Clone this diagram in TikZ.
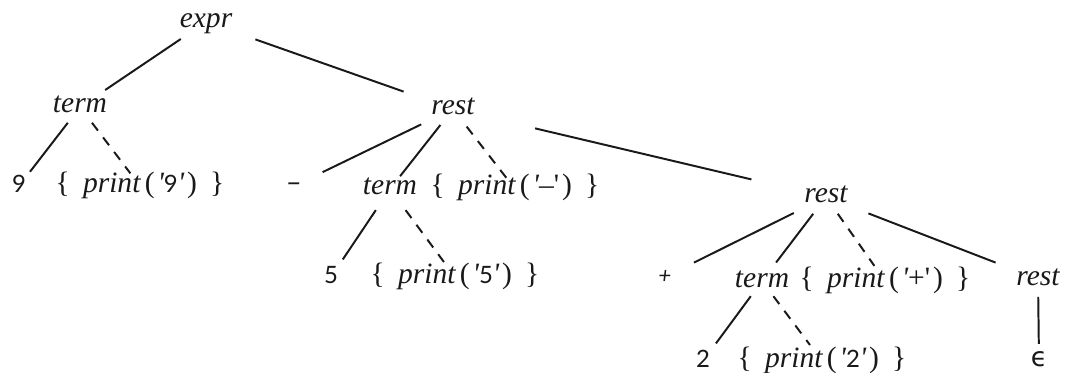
\documentclass[tikz,border=0pt]{standalone}
\usepackage{fontspec}
\setmainfont{Liberation Serif}
\newfontfamily\digitfont[Numbers=Lining]{Lato}
\newfontfamily\greekfont{DejaVu Sans}
\usepackage{tikz}
\usetikzlibrary{calc}

\newcommand\dg[1]{{\upshape\digitfont\fontsize{17}{20}\selectfont #1}}
\newcommand\act[1]{{\upshape\{}\hspace{0.45em}\textit{print}\hspace{0.15em}{\upshape(\hspace{0.1em}}\textquotesingle #1\textquotesingle{\upshape\hspace{0.1em})}\hspace{0.45em}{\upshape\}}}

\tikzset{
  sym/.style={font=\fontsize{21}{25}\selectfont\itshape, text=black!90, inner sep=0pt, text height=0.4cm, text depth=0.1cm},
  treeedge/.style={line width=1.4pt, draw=black!90},
  actedge/.style={treeedge, dash pattern=on 7pt off 6pt}
}

\begin{document}
\begin{tikzpicture}[x=0.025cm, y=-0.025cm]
\useasboundingbox (0,0) rectangle (1065,373);
\node[sym] (expr) at (206,22) {expr};
\node[sym] (term1) at (80,107) {term};
\node[sym] (rest1) at (453,109) {rest};
\node[sym] (nine) at (19,186) {\dg{9}};
\node[sym] (act9) at (140,186) {\act{\dg{9}}};
\node[sym] (minus) at (294,186) {{\digitfont\fontsize{21}{24}\selectfont –}};
\node[sym] (term2) at (390,189) {term};
\node[sym] (actm) at (515,189) {\act{\upshape –}};
\node[sym] (rest2) at (826,197) {rest};
\node[sym] (five) at (331,277) {\dg{5}};
\node[sym] (act5) at (455,277) {\act{\dg{5}}};
\node[sym] (plus) at (665,277) {{\digitfont\fontsize{16}{18}\selectfont +}};
\node[sym] (term3) at (762,281) {term};
\node[sym] (actp) at (885,281) {\act{\upshape +}};
\node[sym] (rest3) at (1038,279) {rest};
\node[sym] (two) at (703,361) {\dg{2}};
\node[sym] (act2) at (822,361) {\act{\dg{2}}};
\node[sym] (eps) at (1039,360) {{\greekfont\upshape\fontsize{19}{22}\selectfont ϵ}};

\draw[treeedge] ($(expr)!.2!(term1)$) -- ($(expr)!.8!(term1)$);
\draw[treeedge] ($(expr)!.2!(rest1)$) -- ($(expr)!.8!(rest1)$);
\draw[treeedge] ($(term1)!.2!(nine)$) -- ($(term1)!.82!(nine)$);
\draw[actedge] ($(term1)!.2!(act9)$) -- ($(term1)!.84!(act9)$);
\draw[treeedge] ($(rest1)!.2!(minus)$) -- ($(rest1)!.82!(minus)$);
\draw[treeedge] ($(rest1)!.2!(term2)$) -- ($(rest1)!.84!(term2)$);
\draw[actedge] ($(rest1)!.22!(actm)$) -- ($(rest1)!.86!(actm)$);
\draw[treeedge] ($(rest1)!.22!(rest2)$) -- ($(rest1)!.8!(rest2)$);
\draw[treeedge] ($(term2)!.24!(five)$) -- ($(term2)!.8!(five)$);
\draw[actedge] ($(term2)!.24!(act5)$) -- ($(term2)!.83!(act5)$);
\draw[treeedge] ($(rest2)!.2!(plus)$) -- ($(rest2)!.82!(plus)$);
\draw[treeedge] ($(rest2)!.2!(term3)$) -- ($(rest2)!.78!(term3)$);
\draw[actedge] ($(rest2)!.2!(actp)$) -- ($(rest2)!.82!(actp)$);
\draw[treeedge] ($(rest2)!.2!(rest3)$) -- ($(rest2)!.8!(rest3)$);
\draw[treeedge] ($(term3)!.19!(two)$) -- ($(term3)!.78!(two)$);
\draw[actedge] ($(term3)!.19!(act2)$) -- ($(term3)!.8!(act2)$);
\draw[treeedge] ($(rest3)!.22!(eps)$) -- ($(rest3)!.8!(eps)$);
\end{tikzpicture}
\end{document}
